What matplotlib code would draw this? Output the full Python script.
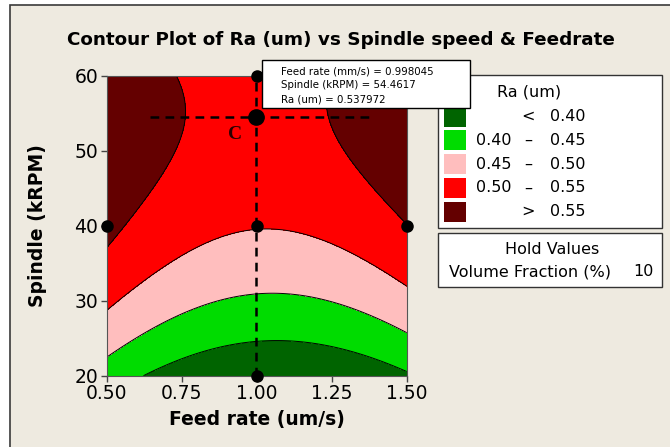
import numpy as np
import matplotlib
matplotlib.use('Agg')
import matplotlib.pyplot as plt
from matplotlib.patches import Rectangle

W, H = 670, 447
BG = '#eeeae0'

# quadratic response surface for Ra in coded units, volume fraction held at 10 %
b0, b1, b2 = 0.5022, -0.0070, 0.0895
b11, b22, b12 = 0.0538, -0.0558, 0.0095

feed_range = [0.5, 1.5]
spindle_range = [20, 60]
feed_ticks = [0.50, 0.75, 1.00, 1.25, 1.50]
spindle_ticks = [20, 30, 40, 50, 60]

levels = [0.40, 0.45, 0.50, 0.55]
colors = ['#006400', '#00dc00', '#ffbebe', '#ff0000', '#640000']
legend_lo = ['', '0.40', '0.45', '0.50', '']
legend_sym = ['<', '–', '–', '–', '>']
legend_hi = ['0.40', '0.45', '0.50', '0.55', '0.55']

design_feed = [0.5, 1.0, 1.5, 1.0, 1.0]
design_spindle = [40, 40, 40, 60, 20]

opt_feed = 0.998045
opt_spindle = 54.4617
opt_ra = 0.537972
hold_volume = 10


def px(x, y):
    return x / W, 1 - y / H


def ra_model(f, s):
    x = (f - 1.0) / 0.5
    y = (s - 40.0) / 20.0
    return b0 + b1*x + b2*y + b11*x*x + b22*y*y + b12*x*y


fig = plt.figure(figsize=(W/100, H/100), dpi=100, facecolor='white')
fig.patches.append(Rectangle(px(10, 480), 700/W, 475/H, transform=fig.transFigure,
                             facecolor=BG, edgecolor='#3a3a3a', lw=1.2, zorder=-5))

ax = fig.add_axes([106.7/W, 1 - 375.7/H, 300/W, 300/H])
fx = np.linspace(*feed_range, 301)
sy = np.linspace(*spindle_range, 301)
F, S = np.meshgrid(fx, sy)
Z = ra_model(F, S)
ax.contourf(F, S, Z, levels=[-1] + levels + [2], colors=colors)
ax.contour(F, S, Z, levels=levels, colors='black', linewidths=0.7)

# crosshair at the selected setting
ax.plot([opt_feed, opt_feed], spindle_range, color='black', ls=(0, (3.5, 2.5)), lw=1.8, clip_on=False)
ax.plot([0.644, 1.378], [opt_spindle, opt_spindle], color='black', ls=(0, (3.5, 2.5)), lw=1.8)
ax.plot(design_feed, design_spindle, 'o', color='black', ms=8, clip_on=False, zorder=5)
ax.plot([opt_feed], [opt_spindle], 'o', color='black', ms=11, clip_on=False, zorder=5)
ax.text(0.928, 52.1, 'C', family='Liberation Serif', fontweight='bold', fontsize=14,
        color='#2a0000', ha='center', va='center')

ax.set_xlim(*feed_range)
ax.set_ylim(*spindle_range)
ax.set_xticks(feed_ticks)
ax.set_xticklabels([f'{t:.2f}' for t in feed_ticks])
ax.set_yticks(spindle_ticks)
ax.tick_params(labelsize=13.5, length=4, width=1, color='#444444', pad=2)
for sp in ax.spines.values():
    sp.set_color('#555555')
    sp.set_linewidth(0.8)

fig.text(*px(341, 40), 'Contour Plot of Ra (um) vs Spindle speed & Feedrate',
         ha='center', va='center', fontsize=13.25, fontweight='bold')
fig.text(*px(257, 419), 'Feed rate (um/s)', ha='center', va='center', fontsize=13.5, fontweight='bold')
fig.text(*px(38, 226), 'Spindle (kRPM)', ha='center', va='center', rotation=90,
         fontsize=13.5, fontweight='bold')

# value callout
fig.patches.append(Rectangle(px(262, 108), 208/W, 48/H, transform=fig.transFigure,
                             facecolor='white', edgecolor='black', lw=1, zorder=6))
callout = [f'Feed rate (mm/s) = {opt_feed:g}', f'Spindle (kRPM) = {opt_spindle:g}',
           f'Ra (um) = {opt_ra:g}']
for i, line in enumerate(callout):
    fig.text(*px(281, 71 + 14*i), line, fontsize=7.4, va='center', zorder=7)

# legend panel
fig.patches.append(Rectangle(px(438, 228), 224/W, 153/H, transform=fig.transFigure,
                             facecolor='white', edgecolor='#333333', lw=1, zorder=1))
fig.text(*px(529, 92), 'Ra (um)', ha='center', va='center', fontsize=11.5)
for i, c in enumerate(colors):
    yc = 116.7 + 23.75*i
    fig.patches.append(Rectangle(px(444, yc + 10), 22/W, 20/H, transform=fig.transFigure,
                                 facecolor=c, edgecolor='none', zorder=2))
    fig.text(*px(511, yc), legend_lo[i], ha='right', va='center', fontsize=11.5)
    fig.text(*px(528, yc), legend_sym[i], ha='center', va='center', fontsize=11.5)
    fig.text(*px(550, yc), legend_hi[i], ha='left', va='center', fontsize=11.5)

fig.patches.append(Rectangle(px(438, 287), 224/W, 54/H, transform=fig.transFigure,
                             facecolor='white', edgecolor='#333333', lw=1, zorder=1))
fig.text(*px(552, 249), 'Hold Values', ha='center', va='center', fontsize=11.5)
fig.text(*px(449, 272), 'Volume Fraction (%)', ha='left', va='center', fontsize=11.5)
fig.text(*px(643, 272), str(hold_volume), ha='center', va='center', fontsize=11.5)

fig.savefig('out.png', dpi=100, facecolor=fig.get_facecolor())
